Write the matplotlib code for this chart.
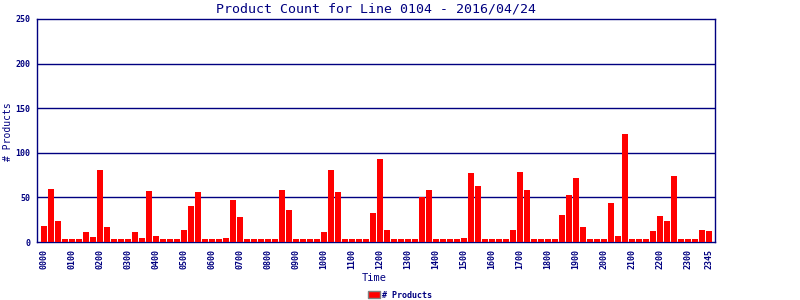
import matplotlib
matplotlib.use("Agg")
import matplotlib.pyplot as plt
from matplotlib.patches import Patch

# 15-minute slots, 0000 .. 2345
times = ["%02d%02d" % (h, m) for h in range(24) for m in (0, 15, 30, 45)]
counts = [18, 59, 24, 3, 3, 3, 11, 6, 81, 17, 3, 3, 3, 11, 4, 57,
          7, 3, 3, 3, 13, 40, 56, 3, 3, 3, 5, 47, 28, 3, 3, 3,
          3, 3, 58, 36, 3, 3, 3, 3, 11, 81, 56, 3, 3, 3, 3, 33,
          93, 13, 3, 3, 3, 3, 51, 58, 3, 3, 3, 3, 4, 77, 63, 3,
          3, 3, 3, 14, 78, 58, 3, 3, 3, 3, 30, 53, 72, 17, 3, 3,
          3, 44, 7, 121, 3, 3, 3, 12, 29, 23, 74, 3, 3, 3, 13, 12]
tick_idx = list(range(0, 96, 4)) + [95]
y_ticks = [0, 50, 100, 150, 200, 250]

navy = "#000080"
mono = "DejaVu Sans Mono"

fig = plt.figure(figsize=(8, 3), dpi=100)
ax = fig.add_axes([37 / 800, 1 - 242 / 300, 678 / 800, 223 / 300])

x = list(range(len(counts)))
ax.bar(x, counts, width=6 / 7, color="#ff0000", zorder=3)

ax.set_xlim(-1, 95.86)
ax.set_ylim(0, 250)
ax.set_yticks(y_ticks)
ax.set_yticklabels([str(v) for v in y_ticks], fontsize=6, color=navy,
                   family=mono, fontweight="bold")
ax.set_xticks(tick_idx)
ax.set_xticklabels([times[i] for i in tick_idx], rotation=90, fontsize=6,
                   color=navy, family=mono, fontweight="bold")
ax.tick_params(axis="x", length=0, pad=5)
ax.tick_params(axis="y", length=0, pad=5)

for v in y_ticks[1:-1]:
    ax.axhline(v, color=navy, linewidth=1, zorder=2)
for s in ax.spines.values():
    s.set_color(navy)
    s.set_linewidth(1)

fig.text(376 / 800, 1 - 9 / 300, "Product Count for Line 0104 - 2016/04/24",
         fontsize=9.5, color=navy, family=mono, ha="center", va="center")
fig.text(8 / 800, 1 - 132 / 300, "# Products", fontsize=7, color=navy,
         family=mono, rotation=90, ha="center", va="center")
fig.text(374 / 800, 1 - 278 / 300, "Time", fontsize=7.5, color=navy,
         family=mono, ha="center", va="center")

fig.legend(handles=[Patch(facecolor="#ff0000", edgecolor="grey")],
           labels=["# Products"], loc="center",
           bbox_to_anchor=(400 / 800, 1 - 295 / 300), frameon=False,
           prop={"family": mono, "size": 6, "weight": "bold"},
           handlelength=1.5, handleheight=0.9, handletextpad=0.3,
           labelcolor=navy)

fig.savefig("out.png", dpi=100)
